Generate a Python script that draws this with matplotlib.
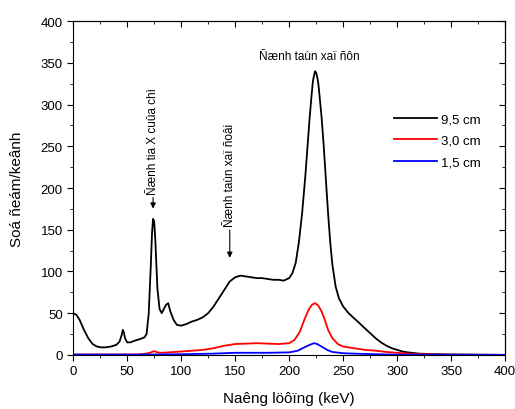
import matplotlib
matplotlib.use('Agg')
import matplotlib.pyplot as plt
from matplotlib.ticker import MultipleLocator

plt.rcParams['font.family'] = ['Liberation Sans', 'DejaVu Sans']

# nang luong (keV) va so dem cho tung khoang cach
e_95 = [0, 3, 6, 10, 14, 18, 22, 26, 30, 35, 40, 43, 45, 46, 47, 48, 50, 53, 57, 62, 66, 68,
        70, 72, 73, 74, 75, 76, 77, 78, 80, 82, 84, 86, 88, 90, 93, 96, 100, 105, 110,
        115, 120, 125, 130, 135, 140, 145, 150, 155, 160, 165, 170, 175, 180, 185, 190,
        195, 200, 203, 206, 209, 212, 215, 217, 219, 221, 222, 223, 224, 225, 226, 227,
        228, 230, 232, 234, 236, 238, 240, 243, 246, 250, 255, 260, 265, 270, 275, 280,
        285, 290, 295, 300, 305, 310, 320, 330, 350, 370, 400]
c_95 = [50, 48, 42, 30, 20, 13, 10, 9, 9, 10, 12, 16, 24, 30, 27, 20, 15, 15, 17, 19, 21, 25,
        50, 110, 145, 163, 160, 140, 110, 80, 55, 50, 55, 60, 62, 52, 42, 36, 35, 37, 40,
        42, 45, 50, 58, 68, 78, 88, 93, 95, 94, 93, 92, 92, 91, 90, 90,
        89, 92, 98, 110, 135, 170, 215, 250, 285, 315, 328, 335, 340, 338, 333, 325,
        312, 285, 250, 210, 170, 135, 108, 82, 68, 58, 50, 44, 38, 32, 26, 20,
        15, 11, 8, 6, 4, 3, 1.5, 1, 0.5, 0.3, 0]

e_30 = [0, 60, 68, 72, 75, 78, 82, 100, 120, 130, 140, 150, 170, 190, 200, 205, 210, 214,
        218, 221, 224, 227, 230, 233, 236, 240, 245, 250, 260, 270, 280, 290, 300, 310,
        320, 340, 400]
c_30 = [0.5, 0.5, 1.5, 3, 4.5, 3, 2.5, 4, 6, 8, 11, 13, 14, 13, 14, 18, 28, 42,
        54, 60, 62, 59, 52, 42, 30, 20, 13, 10, 8, 6, 5, 3.5, 2.5, 1.5,
        0.8, 0.3, 0]

e_15 = [0, 60, 100, 130, 150, 180, 200, 208, 214, 219, 223, 226, 230, 235, 240, 250, 260,
        280, 300, 330, 400]
c_15 = [0.3, 0.3, 0.8, 1.5, 2.5, 2.5, 3, 5, 9, 12, 14, 13, 10, 6, 3.5, 2, 1.5,
        0.8, 0.3, 0.1, 0]

fig = plt.figure(figsize=(5.15, 4.10), dpi=100)
ax = fig.add_axes([0.142, 0.132, 0.839, 0.814])

ax.plot(e_95, c_95, color='black', lw=1.3, label='9,5 cm')
ax.plot(e_30, c_30, color='red', lw=1.3, label='3,0 cm')
ax.plot(e_15, c_15, color='blue', lw=1.3, label='1,5 cm')

ax.set_xlim(0, 400)
ax.set_ylim(0, 400)
ax.xaxis.set_major_locator(MultipleLocator(50))
ax.xaxis.set_minor_locator(MultipleLocator(25))
ax.yaxis.set_major_locator(MultipleLocator(50))
ax.yaxis.set_minor_locator(MultipleLocator(25))
ax.tick_params(which='both', direction='out', top=False, right=False, labelsize=9.5)
ax.tick_params(which='major', length=4)
ax.tick_params(which='minor', length=2.5)
# ve them vach chia ben tren va ben phai huong vao trong
ax2 = ax.secondary_xaxis('top')
ax2.xaxis.set_major_locator(MultipleLocator(50))
ax2.xaxis.set_minor_locator(MultipleLocator(25))
ax2.tick_params(which='both', direction='in', labeltop=False)
ax2.tick_params(which='major', length=4)
ax2.tick_params(which='minor', length=2.5)
ax3 = ax.secondary_yaxis('right')
ax3.yaxis.set_major_locator(MultipleLocator(50))
ax3.yaxis.set_minor_locator(MultipleLocator(25))
ax3.tick_params(which='both', direction='in', labelright=False)
ax3.tick_params(which='major', length=4)
ax3.tick_params(which='minor', length=2.5)

ax.set_xlabel('Naêng löôïng (keV)', fontsize=11, labelpad=10)
ax.set_ylabel('Soá ñeám/keânh', fontsize=11, labelpad=12)

# chu thich cac dinh
ax.annotate('', xy=(74, 172), xytext=(74, 192),
            arrowprops=dict(arrowstyle='-|>', color='black', lw=0.8, mutation_scale=8))
ax.text(74, 193, 'Ñænh tia X cuûa chì', rotation=90, ha='center', va='bottom', fontsize=8.5)
ax.annotate('', xy=(145, 113), xytext=(145, 153),
            arrowprops=dict(arrowstyle='-|>', color='black', lw=0.8, mutation_scale=8))
ax.text(145, 154, 'Ñænh taùn xaï ñoâi', rotation=90, ha='center', va='bottom', fontsize=8.5)
ax.text(219, 358, 'Ñænh taùn xaï ñôn', ha='center', va='center', fontsize=8.5)

ax.legend(loc='upper right', bbox_to_anchor=(0.97, 0.76), frameon=False, fontsize=9.5,
          handlelength=3.2, handletextpad=0.3, labelspacing=0.7)

fig.savefig('out.png', dpi=100)
